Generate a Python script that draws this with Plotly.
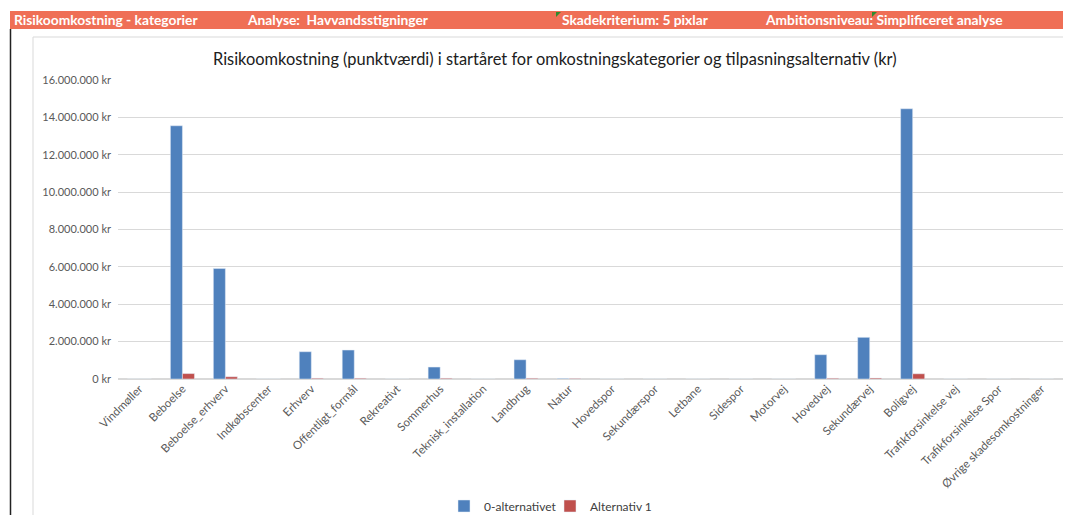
import plotly.graph_objects as go

categories = ["Vindmøller", "Beboelse", "Beboelse_erhverv", "Indkøbscenter", "Erhverv",
              "Offentligt_formål", "Rekreativt", "Sommerhus", "Teknisk_installation", "Landbrug",
              "Natur", "Hovedspor", "Sekundærspor", "Letbane", "Sidespor", "Motorvej",
              "Hovedvej", "Sekundærvej", "Boligvej", "Trafikforsinkelse vej",
              "Trafikforsinkelse Spor", "Øvrige skadesomkostninger"]
alt0 = [0, 13550000, 5910000, 0, 1460000, 1550000, 0, 640000, 0, 1030000,
        30000, 0, 0, 0, 0, 0, 1300000, 2230000, 14460000, 0, 0, 0]
alt1 = [0, 290000, 120000, 0, 40000, 40000, 0, 40000, 0, 40000,
        30000, 0, 0, 0, 0, 0, 40000, 50000, 280000, 0, 0, 0]
series_names = ["0-alternativet", "Alternativ 1"]
y_ticks = [0, 2000000, 4000000, 6000000, 8000000, 10000000, 12000000, 14000000, 16000000]
y_tick_labels = [f"{v:,}".replace(",", ".") + " kr" for v in y_ticks]

header_texts = ["Risikoomkostning - kategorier", "Analyse:  Havvandsstigninger",
                "Skadekriterium: 5 pixlar", "Ambitionsniveau: Simplificeret analyse"]
title_text = "Risikoomkostning (punktværdi) i startåret for omkostningskategorier og tilpasningsalternativ (kr)"

OFF = 8  # page body margin
W, H = 1071 - OFF, 515 - OFF
L, R, T, B = 118 - OFF, 8, 80 - OFF, 515 - 379


def px(x):
    return (x - OFF - L) / (W - L - R)


def py(y):
    return (H - B - (y - OFF)) / (H - T - B)


fig = go.Figure()
fig.add_trace(go.Bar(x=categories, y=alt0, name=series_names[0], marker_color="#4F81BD"))
fig.add_trace(go.Bar(x=categories, y=alt1, name=series_names[1], marker_color="#C0504D"))

shapes = [
    dict(type="rect", xref="paper", yref="paper", x0=px(33), x1=px(1090), y0=py(37), y1=py(530),
         line=dict(color="#D9D9D9", width=1), fillcolor="rgba(0,0,0,0)", layer="below"),
    dict(type="rect", xref="paper", yref="paper", x0=px(10), x1=px(1075), y0=py(11), y1=py(29),
         line=dict(width=0), fillcolor="#EF6F56"),
    dict(type="line", xref="paper", yref="paper", x0=px(10.5), x1=px(10.5), y0=py(29), y1=py(530),
         line=dict(color="#222222", width=1.5)),
    dict(type="path", xref="paper", yref="paper",
         path=f"M {px(556)} {py(12)} L {px(561)} {py(12)} L {px(556)} {py(17)} Z",
         line=dict(width=0), fillcolor="#2E8B2E"),
    dict(type="path", xref="paper", yref="paper",
         path=f"M {px(872)} {py(12)} L {px(877)} {py(12)} L {px(872)} {py(17)} Z",
         line=dict(width=0), fillcolor="#2E8B2E"),
]

header_x = [12, 245, 560, 763]
annotations = []
for t, x in zip(header_texts, header_x):
    annotations.append(dict(text=t, xref="paper", yref="paper", x=px(x), y=py(20),
                            xanchor="left", yanchor="middle", showarrow=False,
                            font=dict(family="Lato", size=13.8, color="white", weight="bold")))
annotations.append(dict(text=title_text, xref="paper", yref="paper", x=px(555), y=py(58),
                        xanchor="center", yanchor="middle", showarrow=False,
                        font=dict(family="Lato", size=16.4, color="#202020")))

fig.update_layout(
    width=W, height=H,
    margin=dict(l=L, r=R, t=T, b=B, autoexpand=False),
    paper_bgcolor="white", plot_bgcolor="white",
    barmode="group", bargap=0.44, bargroupgap=0,
    shapes=shapes, annotations=annotations,
    font=dict(family="Lato", size=11, color="#595959"),
    showlegend=True,
    legend=dict(orientation="h", x=px(444), xanchor="left", y=py(506), yanchor="middle",
                font=dict(family="Lato", size=12, color="#404040"), itemwidth=30,
                entrywidth=61, bgcolor="rgba(0,0,0,0)", traceorder="normal"),
    xaxis=dict(tickangle=-45, showgrid=False, showline=False, ticks="",
               tickfont=dict(family="Lato", size=11.5, color="#595959")),
    yaxis=dict(range=[0, 16000000], tickvals=y_ticks, ticktext=y_tick_labels,
               showgrid=True, gridcolor="#D9D9D9", zeroline=True, zerolinecolor="#D9D9D9",
               showline=False, ticks="", ticklen=0, ticklabelstandoff=6,
               tickfont=dict(family="Lato", size=11, color="#595959")),
)

fig.write_html("out.html")
